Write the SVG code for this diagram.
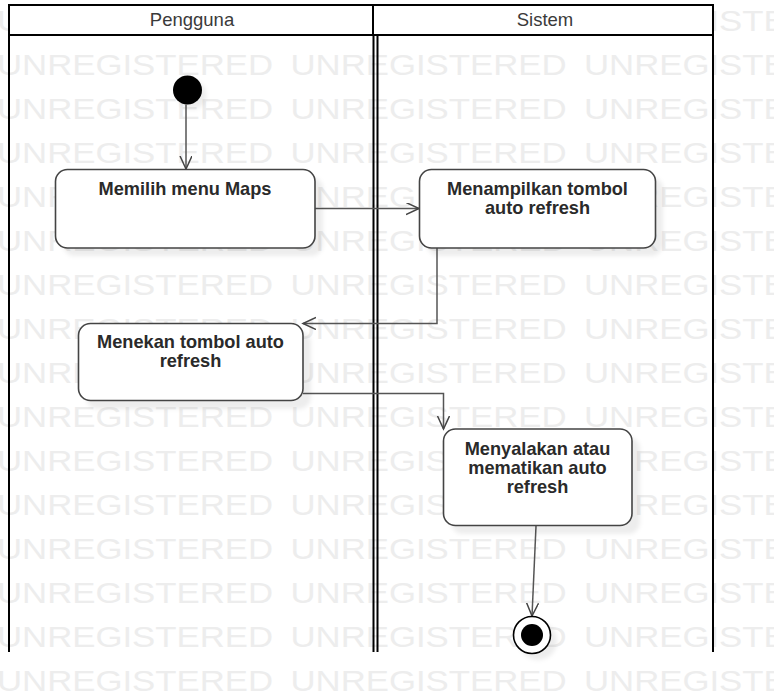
<svg xmlns="http://www.w3.org/2000/svg" width="774" height="699" viewBox="0 0 774 699">
  <style>
    .wm { font-family: "Liberation Sans", Arial, sans-serif; font-size: 30px; fill: #ededed; }
    .lane { fill: none; stroke: #000; stroke-width: 2; }
    .hdrbox { fill: #fff; stroke: #000; stroke-width: 2; }
    .hdr { font-family: "Liberation Sans", Arial, sans-serif; font-size: 18.5px; fill: #3a3a3a; text-anchor: middle; }
    .box { fill: #fff; stroke: #444; stroke-width: 1.6; }
    .shadow { fill: #000; fill-opacity: 0.07; }
    .lbl { font-family: "Liberation Sans", Arial, sans-serif; font-weight: bold; font-size: 18.2px; fill: #2a2a2a; text-anchor: middle; }
    .edge { fill: none; stroke: #555; stroke-width: 1.5; marker-end: url(#arrow); }
  </style>
  <defs>
    <marker id="arrow" markerUnits="userSpaceOnUse" markerWidth="16" markerHeight="16" refX="13" refY="6" orient="auto">
      <path d="M0,0 L13,6 L0,12" fill="none" stroke="#444" stroke-width="1.5"/>
    </marker>
    <filter id="blur" x="-20%" y="-20%" width="140%" height="140%">
      <feGaussianBlur stdDeviation="2"/>
    </filter>
    <g id="wmrow">
      <text class="wm" x="-3" y="0" textLength="276" lengthAdjust="spacingAndGlyphs">UNREGISTERED</text>
      <text class="wm" x="290.5" y="0" textLength="276" lengthAdjust="spacingAndGlyphs">UNREGISTERED</text>
      <text class="wm" x="584" y="0" textLength="276" lengthAdjust="spacingAndGlyphs">UNREGISTERED</text>
    </g>
  </defs>

  <rect x="0" y="0" width="774" height="699" fill="#fff"/>

  <g id="watermark">
    <use href="#wmrow" y="31"/>
    <use href="#wmrow" y="75"/>
    <use href="#wmrow" y="119"/>
    <use href="#wmrow" y="163"/>
    <use href="#wmrow" y="207"/>
    <use href="#wmrow" y="251"/>
    <use href="#wmrow" y="295"/>
    <use href="#wmrow" y="339"/>
    <use href="#wmrow" y="383"/>
    <use href="#wmrow" y="427"/>
    <use href="#wmrow" y="471"/>
    <use href="#wmrow" y="515"/>
    <use href="#wmrow" y="559"/>
    <use href="#wmrow" y="603"/>
    <use href="#wmrow" y="647"/>
    <use href="#wmrow" y="691"/>
  </g>

  <g id="lanes">
    <rect class="hdrbox" x="9" y="5" width="704" height="30"/>
    <line class="lane" x1="373" y1="5" x2="373" y2="35"/>
    <line class="lane" x1="9" y1="35" x2="9" y2="652"/>
    <line class="lane" x1="373.5" y1="35" x2="373.5" y2="652"/>
    <line class="lane" x1="377.5" y1="35" x2="377.5" y2="652"/>
    <line class="lane" x1="713" y1="35" x2="713" y2="652"/>
    <text class="hdr" x="192" y="26">Pengguna</text>
    <text class="hdr" x="545" y="26">Sistem</text>
  </g>

  <g id="connectors">
    <path class="edge" d="M186,104.5 L186,169"/>
    <path class="edge" d="M315,208.5 L419,208.5"/>
    <path class="edge" d="M437,248 L437,323.5 L303,323.5"/>
    <path class="edge" d="M303,393.5 L443.5,393.5 L443.5,429"/>
    <path class="edge" d="M536,526 L532,616"/>
  </g>

  <g id="start">
    <circle cx="192" cy="95" r="14.5" class="shadow" filter="url(#blur)"/>
    <circle cx="187.5" cy="90" r="14.5" fill="#000"/>
  </g>

  <g id="n-memilih">
    <rect class="shadow" x="63" y="177" width="260" height="79" rx="12" filter="url(#blur)"/>
    <rect class="box" x="55.5" y="169.5" width="259.5" height="78.5" rx="12"/>
    <text class="lbl" x="185" y="195">Memilih menu Maps</text>
  </g>

  <g id="n-menampilkan">
    <rect class="shadow" x="427" y="177" width="236" height="79" rx="12" filter="url(#blur)"/>
    <rect class="box" x="419.5" y="169.5" width="236" height="78.5" rx="12"/>
    <text class="lbl" x="537.5" y="195">Menampilkan tombol</text>
    <text class="lbl" x="537.5" y="214">auto refresh</text>
  </g>

  <g id="n-menekan">
    <rect class="shadow" x="86" y="331" width="225" height="78" rx="12" filter="url(#blur)"/>
    <rect class="box" x="78.5" y="323.5" width="224.5" height="77" rx="12"/>
    <text class="lbl" x="190.5" y="348">Menekan tombol auto</text>
    <text class="lbl" x="190.5" y="367">refresh</text>
  </g>

  <g id="n-menyalakan">
    <rect class="shadow" x="451" y="437" width="189" height="97" rx="12" filter="url(#blur)"/>
    <rect class="box" x="443.5" y="429" width="188.5" height="96.5" rx="12"/>
    <text class="lbl" x="537.5" y="455">Menyalakan atau</text>
    <text class="lbl" x="537.5" y="474">mematikan auto</text>
    <text class="lbl" x="537.5" y="493">refresh</text>
  </g>

  <g id="end">
    <circle cx="538" cy="641" r="19" class="shadow" filter="url(#blur)"/>
    <circle cx="532" cy="635" r="18.5" fill="#fff" stroke="#000" stroke-width="1.6"/>
    <circle cx="532" cy="635" r="11" fill="#000"/>
  </g>
</svg>
